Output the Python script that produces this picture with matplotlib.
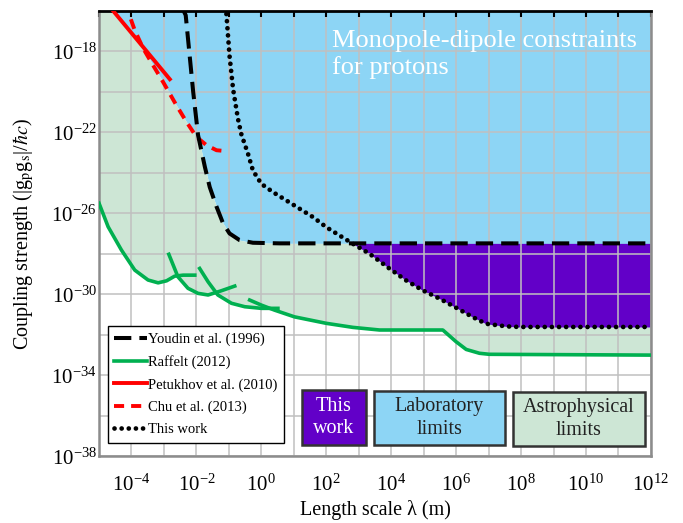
import numpy as np
import matplotlib
matplotlib.use("Agg")
import matplotlib.pyplot as plt
from matplotlib.patches import Rectangle
from matplotlib.ticker import FixedLocator, NullFormatter, LogFormatterSciNotation

plt.rcParams['font.family'] = ['Liberation Serif', 'DejaVu Serif']
plt.rcParams['mathtext.fontset'] = 'stix'
plt.rcParams['axes.unicode_minus'] = False

# ---------------- data (log10 of lambda [m], log10 of coupling) ----------------
youdin_loglam = [-2.45, -2.33, -2.21, -2.10, -1.95, -1.74, -1.59, -1.38, -1.18, -0.98, -0.67, -0.26, 0.56, 12.0]
youdin_logg   = [-15.8, -16.21, -18.18, -19.99, -22.13, -23.70, -24.70, -25.67, -26.49, -26.99, -27.32, -27.45, -27.48, -27.48]

petukhov_loglam = [-4.65, -2.82]
petukhov_logg   = [-15.83, -19.37]

chu_loglam = [-4.02, -3.90, -3.64, -3.34, -3.03, -2.62, -2.31, -2.00, -1.69, -1.38, -1.03]
chu_logg   = [-16.41, -16.95, -17.85, -18.67, -19.50, -20.65, -21.47, -22.22, -22.63, -22.88, -22.93]

thiswork_loglam = [-1.10, -1.08, -0.98, -0.87, -0.72, -0.62, -0.41, -0.26, 0.0, 0.36, 0.77, 1.18, 1.59, 2.0,
                   2.41, 2.82, 3.33, 3.95, 4.46, 4.97, 5.49, 6.0, 6.51, 6.92, 7.54, 7.95, 12.0]
thiswork_logg   = [-15.8, -16.08, -18.22, -19.86, -21.33, -22.07, -23.06, -23.88, -24.54, -24.95, -25.36, -25.77,
                   -26.18, -26.68, -27.09, -27.50, -27.99, -28.73, -29.31, -29.80, -30.21, -30.66, -31.12,
                   -31.45, -31.58, -31.61, -31.61]

raffelt_a_loglam = [-5.0, -4.72, -4.31, -3.90, -3.49, -3.18, -2.92, -2.67, -2.41, -2.05]
raffelt_a_logg   = [-25.5, -26.66, -27.81, -28.80, -29.29, -29.43, -29.33, -29.10, -29.05, -29.05]
raffelt_b_loglam = [-2.85, -2.57, -2.26, -1.95, -1.64, -1.23, -0.82]
raffelt_b_logg   = [-28.02, -29.13, -29.70, -29.95, -30.03, -29.82, -29.59]
raffelt_c_loglam = [-1.90, -1.64, -1.34, -0.92, -0.51, 0.0, 0.51]
raffelt_c_logg   = [-28.72, -29.38, -30.03, -30.44, -30.61, -30.69, -30.69]
raffelt_d_loglam = [-0.36, 0.0, 0.41, 1.02, 2.0, 2.82, 3.64, 5.59, 6.0, 6.31, 6.72, 7.02, 12.0]
raffelt_d_logg   = [-30.28, -30.53, -30.78, -31.11, -31.43, -31.63, -31.76, -31.76, -32.34, -32.72, -32.91, -32.96, -33.0]

xmajor_exp = list(range(-4, 13, 2))
ymajor_exp = list(range(-38, -17, 4))

legend_labels = ["Youdin et al. (1996)", "Raffelt (2012)", "Petukhov et al. (2010)", "Chu et al. (2013)", "This work"]

# ---------------- colours ----------------
c_blue = '#8dd5f5'
c_green_fill = '#cde6d5'
c_purple = '#6200c8'
c_green = '#00b050'
c_red = '#ff0000'

fig = plt.figure(figsize=(6.83, 5.23), dpi=100)
ax = fig.add_axes([0.145, 0.1275, 0.808, 0.8515])
ax.set_xscale('log')
ax.set_yscale('log')
ax.set_xlim(1e-5, 1e12)
ax.set_ylim(1e-38, 1e-16)

def p(lx, ly):
    return 10.0 ** np.asarray(lx, float), 10.0 ** np.asarray(ly, float)

# ---------------- envelopes for the shaded regions ----------------
u = np.linspace(-5, 12, 4000)
def on_grid(lx, ly):
    v = np.interp(u, lx, ly)
    v[(u < lx[0]) | (u > lx[-1])] = np.nan
    return v

lab = np.vstack([on_grid(petukhov_loglam, petukhov_logg), on_grid(chu_loglam, chu_logg),
                 on_grid(youdin_loglam, youdin_logg), on_grid(thiswork_loglam, thiswork_logg)])
lab_env = np.where(np.all(np.isnan(lab), axis=0), -10.0, np.nanmin(np.where(np.isnan(lab), np.inf, lab), axis=0))
astro = np.vstack([on_grid(raffelt_a_loglam, raffelt_a_logg), on_grid(raffelt_b_loglam, raffelt_b_logg),
                   on_grid(raffelt_c_loglam, raffelt_c_logg), on_grid(raffelt_d_loglam, raffelt_d_logg)])
astro_env = np.nanmin(np.where(np.isnan(astro), np.inf, astro), axis=0)
you_g = on_grid(youdin_loglam, youdin_logg)
tw_g = on_grid(thiswork_loglam, thiswork_logg)

X = 10.0 ** u
ax.fill_between(X, 10.0 ** lab_env, 1e-10, color=c_blue, lw=0, zorder=1)
ax.fill_between(X, 10.0 ** astro_env, 10.0 ** lab_env, color=c_green_fill, lw=0, zorder=1)
mask = (~np.isnan(you_g)) & (~np.isnan(tw_g)) & (tw_g < you_g)
ax.fill_between(X, 10.0 ** np.where(mask, tw_g, -20), 10.0 ** np.where(mask, you_g, -20),
                where=mask, color=c_purple, lw=0, zorder=1)

# ---------------- curves ----------------
lw_green = 2.6
for lx, ly in [(raffelt_a_loglam, raffelt_a_logg), (raffelt_b_loglam, raffelt_b_logg),
               (raffelt_c_loglam, raffelt_c_logg)]:
    ax.plot(*p(lx, ly), color=c_green, lw=lw_green, zorder=3)
ax.plot(*p(raffelt_d_loglam, raffelt_d_logg), color=c_green, lw=lw_green, zorder=3, label=legend_labels[1])
ax.plot(*p(petukhov_loglam, petukhov_logg), color=c_red, lw=2.8, zorder=3, label=legend_labels[2])
ax.plot(*p(chu_loglam, chu_logg), color=c_red, lw=2.8, dashes=(2.6, 1.8), zorder=3, label=legend_labels[3])
ax.plot(*p(youdin_loglam, youdin_logg), color='black', lw=2.9, dashes=(4.3, 2.0), zorder=4, label=legend_labels[0])
ax.plot(*p(thiswork_loglam, thiswork_logg), color='black', lw=3.4, dashes=(0.01, 1.5),
        dash_capstyle='round', zorder=4, label=legend_labels[4])

# ---------------- axes styling ----------------
ax.xaxis.set_major_locator(FixedLocator([10.0 ** e for e in xmajor_exp]))
ax.xaxis.set_minor_locator(FixedLocator([10.0 ** e for e in range(-5, 13)]))
ax.xaxis.set_minor_formatter(NullFormatter())
ax.yaxis.set_major_locator(FixedLocator([10.0 ** e for e in ymajor_exp]))
ax.yaxis.set_minor_locator(FixedLocator([10.0 ** e for e in range(-38, -15, 2)]))
ax.yaxis.set_minor_formatter(NullFormatter())
ax.xaxis.set_major_formatter(LogFormatterSciNotation())
ax.yaxis.set_major_formatter(LogFormatterSciNotation())

ax.grid(True, which='both', color='#c0c0c0', lw=1.1, zorder=2)
ax.tick_params(axis='x', which='both', bottom=False, top=True, direction='in', length=4, width=1.5,
               color='black', labelsize=15, pad=13)
ax.tick_params(axis='y', which='both', left=False, labelsize=15, pad=-2)

for s in ['left', 'bottom', 'right']:
    ax.spines[s].set_color('#8c8c8c')
    ax.spines[s].set_linewidth(1.8)
ax.spines['top'].set_color('black')
ax.spines['top'].set_linewidth(2.0)

ax.set_xlabel('Length scale λ (m)', fontsize=14.5, labelpad=3)
ax.set_ylabel(r'Coupling strength (|g$_\mathrm{p}$g$_\mathrm{s}$|/$\hbar c$)', fontsize=14.5, labelpad=11)

# ---------------- annotations ----------------
ax.text(0.422, 0.957, 'Monopole-dipole constraints\nfor protons', transform=ax.transAxes,
        color='white', fontsize=19, va='top', ha='left', linespacing=1.2, zorder=6)

boxes = [((0.3678, 0.0254), 0.1159, 0.1234, c_purple, 'This\nwork', 'white'),
         ((0.4982, 0.0254), 0.2373, 0.1212, c_blue, 'Laboratory\nlimits', '#222222'),
         ((0.7500, 0.0232), 0.2391, 0.1211, c_green_fill, 'Astrophysical\nlimits', '#222222')]
for (x0, y0), w, h, fc, txt, tc in boxes:
    ax.add_patch(Rectangle((x0, y0), w, h, transform=ax.transAxes, facecolor=fc,
                           edgecolor='#333333', lw=1.8, zorder=6))
    ax.text(x0 + w / 2, y0 + h / 2, txt, transform=ax.transAxes, ha='center', va='center',
            color=tc, fontsize=14.5, linespacing=1.25, zorder=7)

h, l = ax.get_legend_handles_labels()
order = [l.index(t) for t in legend_labels]
leg = ax.legend([h[i] for i in order], [l[i] for i in order], loc='lower left',
                bbox_to_anchor=(0.016, 0.030), borderaxespad=0, fontsize=10.5, fancybox=False,
                framealpha=1, edgecolor='black', handlelength=2.2, handletextpad=0.1,
                labelspacing=0.62, borderpad=0.45)
leg.get_frame().set_linewidth(1.0)
leg.set_zorder(8)

fig.savefig('out.png', dpi=100)
